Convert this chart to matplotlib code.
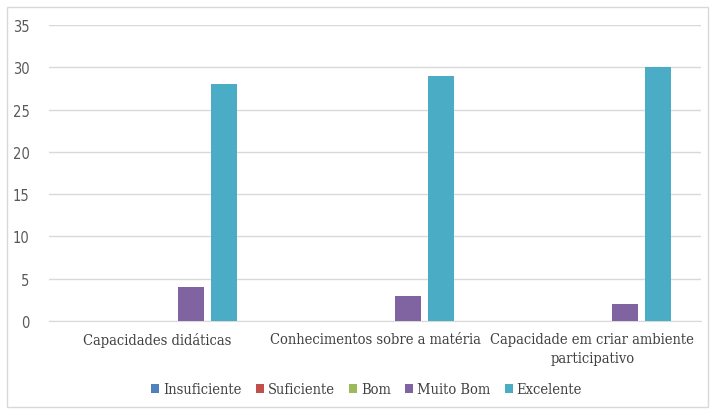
import numpy as np
import matplotlib.pyplot as plt
from matplotlib.patches import Rectangle

categorias = ['Capacidades didáticas',
              'Conhecimentos sobre a matéria',
              'Capacidade em criar ambiente\nparticipativo']
series = ['Insuficiente', 'Suficiente', 'Bom', 'Muito Bom', 'Excelente']
insuficiente = [0, 0, 0]
suficiente = [0, 0, 0]
bom = [0, 0, 0]
muito_bom = [4, 3, 2]
excelente = [28, 29, 30]
valores = [insuficiente, suficiente, bom, muito_bom, excelente]
cores = ['#4F81BD', '#C0504D', '#9BBB59', '#8064A2', '#4BACC6']

fig = plt.figure(figsize=(7.12, 4.10), dpi=100)
ax = fig.add_axes([0.0688, 0.2146, 0.9158, 0.722])

# moldura clara em volta do gráfico
fig.patches.append(Rectangle((0.010, 0.005), 0.985, 0.975, transform=fig.transFigure,
                             fill=False, edgecolor='#D9D9D9', linewidth=1.0))

x = np.arange(len(categorias))
passo = 0.152
largura = 0.12
for i, (nome, vals, cor) in enumerate(zip(series, valores, cores)):
    ax.bar(x + (i - 2) * passo, vals, largura, color=cor, label=nome, zorder=3)

ax.set_xlim(-0.5, 2.5)
ax.set_ylim(0, 35)
ax.set_yticks(range(0, 36, 5))
ax.grid(axis='y', color='#D9D9D9', linewidth=1.0, zorder=0)
for s in ['top', 'right', 'left']:
    ax.spines[s].set_visible(False)
ax.spines['bottom'].set_color('#D9D9D9')
ax.tick_params(axis='both', length=0)
ax.tick_params(axis='y', pad=14, labelcolor='#595959', labelsize=10.5)
ax.tick_params(axis='x', pad=8, labelcolor='#404040')
for t in ax.get_yticklabels():
    t.set_fontfamily('DejaVu Sans')
    t.set_fontstretch('condensed')
ax.set_xticks(x)
ax.set_xticklabels(categorias, fontfamily='DejaVu Serif', fontstretch='condensed',
                   fontsize=10.5, linespacing=1.4)

leg = fig.legend(loc='center', bbox_to_anchor=(0.515, 0.048), ncol=5, frameon=False,
                 handlelength=0.55, handleheight=0.55, handletextpad=0.25,
                 columnspacing=1.0,
                 prop={'family': 'DejaVu Serif', 'stretch': 'condensed', 'size': 10.5})
for t in leg.get_texts():
    t.set_color('#404040')

fig.savefig('out.png', dpi=100)
